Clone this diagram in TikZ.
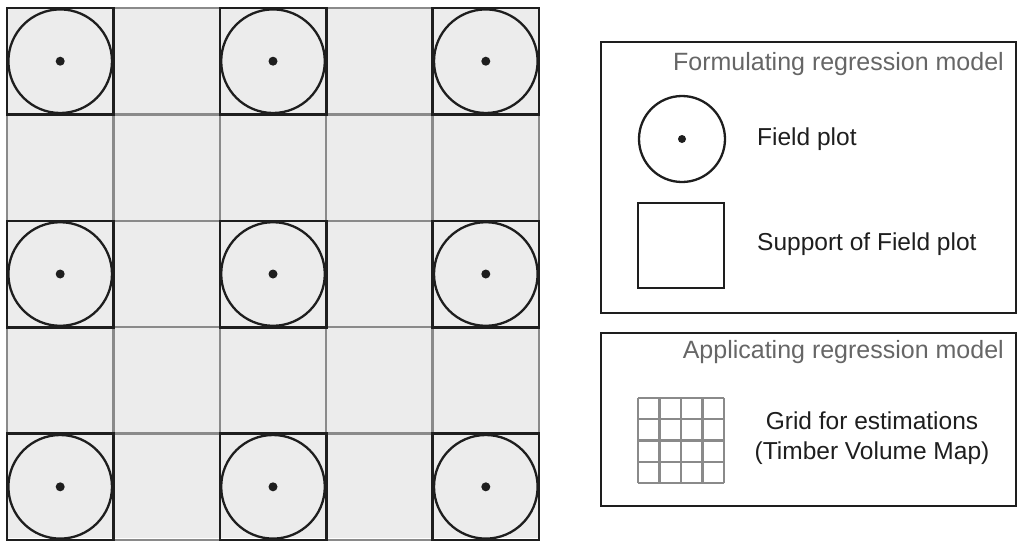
\documentclass[tikz,border=0pt]{standalone}
\usepackage{fontspec}
\setmainfont{Liberation Sans}
\definecolor{cellfill}{HTML}{ECECEC}
\definecolor{gridgray}{HTML}{8A8A8A}
\definecolor{ink}{HTML}{1E1E1E}
\definecolor{titlegray}{HTML}{666666}
\begin{document}
\begin{tikzpicture}[x=1pt,y=-1pt,
  gridline/.style={draw=gridgray,line width=2.3pt},
  plotsq/.style={draw=ink,line width=2.6pt},
  plotcirc/.style={draw=ink,line width=2.3pt},
  legbox/.style={draw=ink,line width=1.8pt},
  smallgrid/.style={draw=gridgray,line width=2.4pt},
  titletext/.style={text=titlegray,font=\fontsize{25}{29}\selectfont,inner sep=0pt},
  labeltext/.style={text=ink,font=\fontsize{24.5}{29.5}\selectfont,inner sep=0pt}]
\useasboundingbox (0,0) rectangle (1024,550);
% field grid
\fill[cellfill] (7,8) rectangle (539,538);
\foreach \i in {0,...,5} {
  \draw[gridline] (7+\i*106.4,8) -- (7+\i*106.4,538);
  \draw[gridline] (7,8+\i*106.4) -- (539,8+\i*106.4);
}
\foreach \c in {0,2,4} {
  \foreach \r in {0,2,4} {
    \draw[plotsq] (7+\c*106.4,8+\r*106.4) rectangle ++(106.4,106.4);
    \draw[plotcirc] (7+\c*106.4+53.2,8+\r*106.4+53.2) circle (51.8pt);
    \fill[ink] (7+\c*106.4+53.2,8+\r*106.4+53.2) circle (4.5pt);
  }
}
% legend 1
\draw[legbox] (601,42) rectangle (1016,313);
\node[titletext,anchor=east] (t1) at (1004,64) {Formulating regression model};
\coordinate (lc) at (682,139);
\draw[plotcirc] (lc) circle (43pt);
\fill[ink] (lc) circle (4pt);
\node[labeltext,anchor=west] (l1) at (757,139) {Field plot};
\draw[plotsq] (638,203) rectangle (724,288);
\node[labeltext,anchor=west] (l2) at (757,244) {Support of Field plot};
% legend 2
\draw[legbox] (601,333) rectangle (1016,506);
\node[titletext,anchor=east] (t2) at (1004,352) {Applicating regression model};
\foreach \i in {0,...,4} {
  \draw[smallgrid] (638+\i*21.5,398) -- (638+\i*21.5,483);
  \draw[smallgrid] (638,398+\i*21.25) -- (724,398+\i*21.25);
}
\node[labeltext,align=center] (l3) at (872,438) {Grid for estimations\\(Timber Volume Map)};
\end{tikzpicture}
\end{document}
